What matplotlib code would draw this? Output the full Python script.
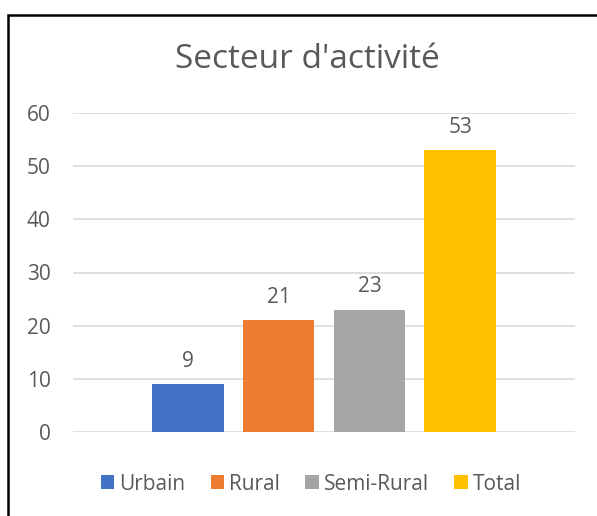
import matplotlib.pyplot as plt
from matplotlib.patches import Rectangle

series = ["Urbain", "Rural", "Semi-Rural", "Total"]
values = [9, 21, 23, 53]
colors = ["#4472C4", "#ED7D31", "#A5A5A5", "#FFC000"]
yticks = [0, 10, 20, 30, 40, 50, 60]

text_color = "#595959"
plt.rcParams["font.family"] = ["Open Sans", "DejaVu Sans"]

fig = plt.figure(figsize=(5.97, 5.16), dpi=100)
W, H = 597, 516
ax = fig.add_axes([73 / W, 1 - 432 / H, (575 - 73) / W, (432 - 113) / H])

x = list(range(len(series)))
bars = ax.bar(x, values, width=0.79, color=colors, label=series, zorder=3)
for xi, v in zip(x, values):
    ax.annotate(str(v), (xi, v), xytext=(0, 9), textcoords="offset points",
                ha="center", va="bottom", fontsize=15, color=text_color)

ax.set_ylim(0, 60)
ax.set_xlim(1.5 - 2.76, 1.5 + 2.76)
ax.set_yticks(yticks)
ax.set_xticks([])
ax.tick_params(axis="y", length=0, pad=16, labelsize=15, labelcolor=text_color)
ax.grid(axis="y", color="#D9D9D9", linewidth=1.2, zorder=0)
for s in ax.spines.values():
    s.set_visible(False)

fig.text(307 / W, 1 - 60 / H, "Secteur d'activité", ha="center", va="center",
         fontsize=24, color=text_color)

fig.legend(handles=bars, labels=series, loc="center", ncol=4,
           bbox_to_anchor=(311 / W, 1 - 484 / H), frameon=False, fontsize=15,
           handlelength=0.65, handleheight=0.65, handletextpad=0.25,
           columnspacing=1.2, labelcolor=text_color)

# chart border (right and bottom edges fall outside the picture)
fig.patches.append(Rectangle((8 / W, -0.05), 1.2, 1 - 15 / H + 0.05,
                             transform=fig.transFigure, fill=False,
                             edgecolor="black", linewidth=1.8))

fig.savefig("out.png", dpi=100)
